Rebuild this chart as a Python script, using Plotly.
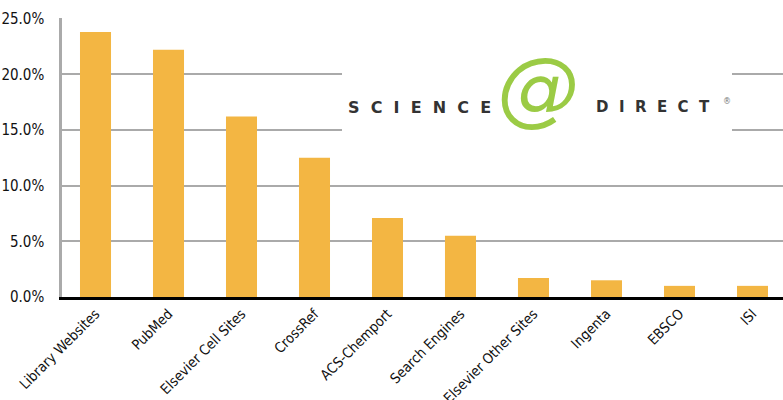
import plotly.graph_objects as go

categories = ["Library Websites", "PubMed", "Elsevier Cell Sites", "CrossRef", "ACS-Chemport",
              "Search Engines", "Elsevier Other Sites", "Ingenta", "EBSCO", "ISI"]
values = [23.8, 22.2, 16.2, 12.5, 7.1, 5.5, 1.7, 1.5, 1.0, 1.0]
y_ticks = [0, 5, 10, 15, 20, 25]
y_tick_labels = ["0.0%", "5.0%", "10.0%", "15.0%", "20.0%", "25.0%"]

FONT = "DejaVu Sans Condensed"

fig = go.Figure(go.Bar(
    x=categories, y=values, marker_color="#F3B643", width=0.425,
    marker_line_width=0, hoverinfo="skip"))

fig.update_layout(
    width=783, height=400,
    margin=dict(l=62, r=0, t=18, b=103, autoexpand=False),
    plot_bgcolor="white", paper_bgcolor="white",
    showlegend=False,
    font=dict(family=FONT, size=15, color="#111111"),
    xaxis=dict(
        type="category", range=[-0.459, 9.418], automargin=False,
        showgrid=False, showline=True, linecolor="#000000", linewidth=3,
        tickangle=-45, ticks="", tickfont=dict(family=FONT, size=14.2, color="#111111"),
        fixedrange=True,
    ),
    yaxis=dict(
        range=[0, 25.05], tickvals=y_ticks, ticktext=y_tick_labels, automargin=False,
        showgrid=True, gridcolor="#AAAAAA", gridwidth=2.2,
        zeroline=False, showline=True, linecolor="#AAAAAA", linewidth=2.5,
        ticks="outside", ticklen=12, tickcolor="rgba(0,0,0,0)",
        tickfont=dict(family=FONT, size=15, color="#111111"),
        fixedrange=True,
    ),
)

def px(x):
    return (x - 62) / 721

def py(y):
    return (297 - y) / 279

# logo panel (white background covering gridlines)
fig.add_shape(type="rect", xref="paper", yref="paper",
              x0=px(342), x1=px(732), y0=py(142), y1=py(45),
              fillcolor="white", line_width=0, layer="above")

logo_font = "DejaVu Sans, sans-serif"
sp = " &nbsp;"
fig.add_annotation(xref="paper", yref="paper", x=px(346), y=py(96), xanchor="left",
                   text="<b>" + sp.join("SCIENCE") + "</b>", showarrow=False,
                   font=dict(family=logo_font, size=16, color="#333333"))
fig.add_annotation(xref="paper", yref="paper", x=px(538), y=py(38),
                   text="<i>@</i>", showarrow=False,
                   font=dict(family=logo_font, size=82, color="#9BCB45"))
fig.add_annotation(xref="paper", yref="paper", x=px(594), y=py(96), xanchor="left",
                   text="<b>" + sp.join("DIRECT") + "</b>", showarrow=False,
                   font=dict(family=logo_font, size=15, color="#333333"))
fig.add_annotation(xref="paper", yref="paper", x=px(721), y=py(95), xanchor="left",
                   text="®", showarrow=False,
                   font=dict(family=logo_font, size=8, color="#777777"))

fig.write_html("out.html")
